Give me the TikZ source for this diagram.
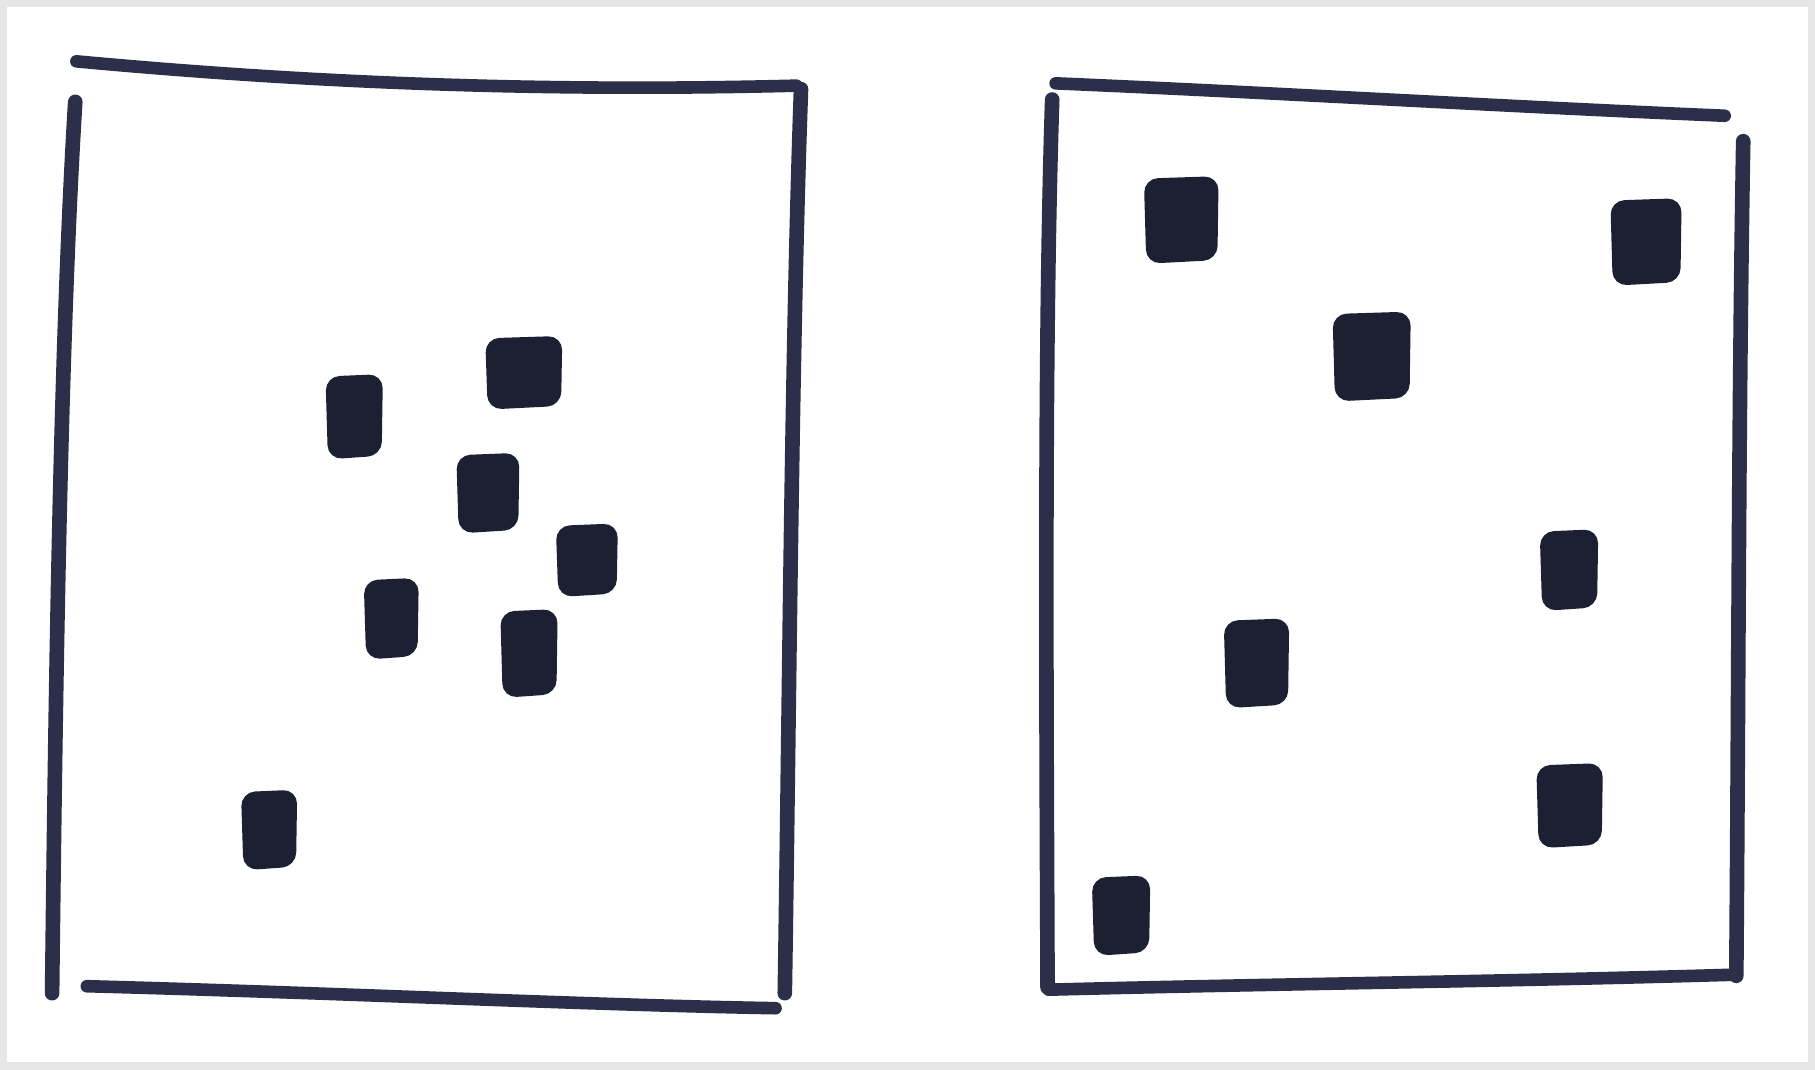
\documentclass[tikz,border=0pt]{standalone}
\definecolor{ink}{HTML}{2C2F4A}
\definecolor{blob}{HTML}{1D2033}
\definecolor{edge}{HTML}{E6E6E6}
\tikzset{
  stroke/.style={draw=ink, line width=3.1pt, line cap=round},
  vstroke/.style={draw=ink, line width=3.6pt, line cap=round},
  blobfill/.style={fill=blob, draw=blob, line width=1pt, rounded corners=3pt}
}
\newcommand{\myblob}[4]{\path[blobfill] (#1,#2) -- (#3,#2-2) -- (#3-1,#4-3) -- (#1+2,#4) -- cycle;}
\begin{document}
\begin{tikzpicture}[x=0.01cm,y=-0.01cm]
\useasboundingbox (0,0) rectangle (1568,924);
\fill[white] (0,0) rectangle (1568,924);
\draw[edge, line width=3pt] (1,1) rectangle (1567,923);
% left box
\draw[stroke] (66,53) .. controls (250,70) and (450,80) .. (688,74);
\draw[vstroke] (65,88) .. controls (52,300) and (48,600) .. (45,858);
\draw[vstroke] (692,77) .. controls (684,300) and (682,600) .. (678,858);
\draw[stroke] (75,852) .. controls (300,858) and (500,868) .. (670,871);
% right box
\draw[stroke] (912,72) .. controls (1100,80) and (1300,92) .. (1490,100);
\draw[vstroke] (909,86) .. controls (902,300) and (904,600) .. (905,853);
\draw[vstroke] (1506,122) .. controls (1502,350) and (1502,600) .. (1500,843);
\draw[stroke] (906,855) .. controls (1100,850) and (1300,848) .. (1500,842);
% left squares
\myblob{283}{327}{329}{395}
\myblob{421}{294}{484}{352}
\myblob{396}{395}{447}{459}
\myblob{482}{456}{532}{514}
\myblob{316}{503}{360}{568}
\myblob{434}{530}{480}{601}
\myblob{210}{686}{255}{750}
% right squares
\myblob{990}{156}{1051}{226}
\myblob{1393}{175}{1451}{245}
\myblob{1153}{273}{1217}{345}
\myblob{1332}{461}{1379}{526}
\myblob{1059}{538}{1112}{610}
\myblob{1329}{663}{1383}{731}
\myblob{945}{760}{992}{824}
\end{tikzpicture}
\end{document}
